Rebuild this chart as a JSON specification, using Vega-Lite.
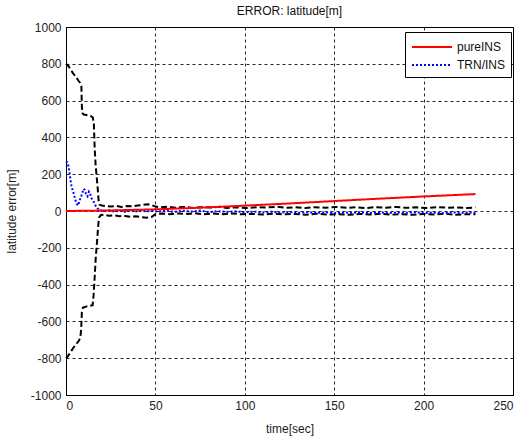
{
  "$schema": "https://vega.github.io/schema/vega-lite/v6.json",
  "width": 447,
  "height": 368,
  "autosize": {"type": "none"},
  "padding": {"left": 66, "top": 27, "right": 16, "bottom": 43},
  "background": "white",
  "title": {"text": "ERROR: latitude[m]", "fontSize": 12, "fontWeight": "normal", "font": "Liberation Sans", "color": "#111", "offset": 3, "anchor": "middle"},
  "config": {
    "view": {"stroke": "#000", "strokeWidth": 1},
    "axis": {"labelFont": "Liberation Sans", "titleFont": "Liberation Sans", "labelFontSize": 12, "titleFontSize": 12, "titleFontWeight": "normal", "labelColor": "#222", "titleColor": "#222", "domainColor": "#000", "ticks": false, "grid": true, "gridColor": "#000", "gridDash": [3, 3], "gridOpacity": 0.85, "gridWidth": 1}
  },
  "datasets": {
    "d": [
      {"t": 0, "v": 800, "s": "U"}, {"t": 1, "v": 792, "s": "U"}, {"t": 2, "v": 778, "s": "U"}, {"t": 3, "v": 762, "s": "U"}, {"t": 4, "v": 748, "s": "U"}, {"t": 5, "v": 735, "s": "U"}, {"t": 6, "v": 722, "s": "U"}, {"t": 7, "v": 708, "s": "U"}, {"t": 8, "v": 695, "s": "U"}, {"t": 8.6, "v": 680, "s": "U"}, {"t": 8.9, "v": 560, "s": "U"}, {"t": 9.3, "v": 530, "s": "U"}, {"t": 10, "v": 524, "s": "U"}, {"t": 12, "v": 520, "s": "U"}, {"t": 14, "v": 515, "s": "U"}, {"t": 15, "v": 508, "s": "U"}, {"t": 15.6, "v": 470, "s": "U"}, {"t": 16, "v": 350, "s": "U"}, {"t": 16.5, "v": 260, "s": "U"}, {"t": 17, "v": 200, "s": "U"}, {"t": 17.6, "v": 140, "s": "U"}, {"t": 18.2, "v": 60, "s": "U"}, {"t": 18.7, "v": 35, "s": "U"}, {"t": 20, "v": 30, "s": "U"}, {"t": 22, "v": 27, "s": "U"}, {"t": 25, "v": 24, "s": "U"}, {"t": 28, "v": 28, "s": "U"}, {"t": 31, "v": 22, "s": "U"}, {"t": 34, "v": 27, "s": "U"}, {"t": 37, "v": 25, "s": "U"}, {"t": 40, "v": 30, "s": "U"}, {"t": 43, "v": 33, "s": "U"}, {"t": 46, "v": 36, "s": "U"}, {"t": 48, "v": 32, "s": "U"}, {"t": 50, "v": 24, "s": "U"}, {"t": 53, "v": 20, "s": "U"}, {"t": 57, "v": 23, "s": "U"}, {"t": 61, "v": 18, "s": "U"}, {"t": 66, "v": 22, "s": "U"}, {"t": 71, "v": 17, "s": "U"}, {"t": 75, "v": 21, "s": "U"}, {"t": 81, "v": 19, "s": "U"}, {"t": 86, "v": 23, "s": "U"}, {"t": 90, "v": 17, "s": "U"}, {"t": 96, "v": 20, "s": "U"}, {"t": 101, "v": 16, "s": "U"}, {"t": 107, "v": 21, "s": "U"}, {"t": 112, "v": 19, "s": "U"}, {"t": 118, "v": 23, "s": "U"}, {"t": 123, "v": 18, "s": "U"}, {"t": 128, "v": 20, "s": "U"}, {"t": 134, "v": 16, "s": "U"}, {"t": 139, "v": 21, "s": "U"}, {"t": 145, "v": 18, "s": "U"}, {"t": 151, "v": 22, "s": "U"}, {"t": 157, "v": 17, "s": "U"}, {"t": 162, "v": 20, "s": "U"}, {"t": 168, "v": 16, "s": "U"}, {"t": 173, "v": 21, "s": "U"}, {"t": 179, "v": 18, "s": "U"}, {"t": 185, "v": 22, "s": "U"}, {"t": 190, "v": 17, "s": "U"}, {"t": 196, "v": 20, "s": "U"}, {"t": 202, "v": 16, "s": "U"}, {"t": 207, "v": 21, "s": "U"}, {"t": 213, "v": 18, "s": "U"}, {"t": 218, "v": 20, "s": "U"}, {"t": 224, "v": 16, "s": "U"}, {"t": 229, "v": 19, "s": "U"},
      {"t": 0, "v": -800, "s": "L"}, {"t": 1, "v": -790, "s": "L"}, {"t": 2, "v": -775, "s": "L"}, {"t": 3, "v": -760, "s": "L"}, {"t": 4, "v": -745, "s": "L"}, {"t": 5, "v": -732, "s": "L"}, {"t": 6, "v": -720, "s": "L"}, {"t": 7, "v": -708, "s": "L"}, {"t": 8, "v": -690, "s": "L"}, {"t": 8.5, "v": -640, "s": "L"}, {"t": 8.9, "v": -540, "s": "L"}, {"t": 9.5, "v": -525, "s": "L"}, {"t": 11, "v": -520, "s": "L"}, {"t": 13, "v": -516, "s": "L"}, {"t": 14.9, "v": -512, "s": "L"}, {"t": 15.4, "v": -460, "s": "L"}, {"t": 15.8, "v": -400, "s": "L"}, {"t": 16.2, "v": -330, "s": "L"}, {"t": 16.6, "v": -260, "s": "L"}, {"t": 17, "v": -210, "s": "L"}, {"t": 17.5, "v": -150, "s": "L"}, {"t": 18, "v": -80, "s": "L"}, {"t": 18.5, "v": -35, "s": "L"}, {"t": 19.5, "v": -22, "s": "L"}, {"t": 21, "v": -20, "s": "L"}, {"t": 24, "v": -26, "s": "L"}, {"t": 27, "v": -24, "s": "L"}, {"t": 30, "v": -28, "s": "L"}, {"t": 33, "v": -27, "s": "L"}, {"t": 36, "v": -31, "s": "L"}, {"t": 39, "v": -29, "s": "L"}, {"t": 42, "v": -33, "s": "L"}, {"t": 45, "v": -36, "s": "L"}, {"t": 48, "v": -32, "s": "L"}, {"t": 50, "v": -18, "s": "L"}, {"t": 54, "v": -14, "s": "L"}, {"t": 58, "v": -17, "s": "L"}, {"t": 63, "v": -13, "s": "L"}, {"t": 68, "v": -16, "s": "L"}, {"t": 72, "v": -12, "s": "L"}, {"t": 77, "v": -18, "s": "L"}, {"t": 82, "v": -14, "s": "L"}, {"t": 88, "v": -17, "s": "L"}, {"t": 93, "v": -13, "s": "L"}, {"t": 98, "v": -18, "s": "L"}, {"t": 104, "v": -15, "s": "L"}, {"t": 110, "v": -19, "s": "L"}, {"t": 116, "v": -14, "s": "L"}, {"t": 122, "v": -18, "s": "L"}, {"t": 128, "v": -16, "s": "L"}, {"t": 134, "v": -20, "s": "L"}, {"t": 140, "v": -15, "s": "L"}, {"t": 146, "v": -19, "s": "L"}, {"t": 152, "v": -17, "s": "L"}, {"t": 158, "v": -21, "s": "L"}, {"t": 164, "v": -16, "s": "L"}, {"t": 170, "v": -19, "s": "L"}, {"t": 176, "v": -15, "s": "L"}, {"t": 182, "v": -20, "s": "L"}, {"t": 188, "v": -17, "s": "L"}, {"t": 194, "v": -21, "s": "L"}, {"t": 200, "v": -16, "s": "L"}, {"t": 206, "v": -19, "s": "L"}, {"t": 212, "v": -15, "s": "L"}, {"t": 218, "v": -20, "s": "L"}, {"t": 224, "v": -17, "s": "L"}, {"t": 229, "v": -18, "s": "L"},
      {"t": 0, "v": 270, "s": "TRN/INS"}, {"t": 0.7, "v": 265, "s": "TRN/INS"}, {"t": 1.5, "v": 240, "s": "TRN/INS"}, {"t": 2.2, "v": 190, "s": "TRN/INS"}, {"t": 3, "v": 140, "s": "TRN/INS"}, {"t": 3.8, "v": 110, "s": "TRN/INS"}, {"t": 4.5, "v": 90, "s": "TRN/INS"}, {"t": 5.2, "v": 60, "s": "TRN/INS"}, {"t": 6, "v": 40, "s": "TRN/INS"}, {"t": 6.8, "v": 30, "s": "TRN/INS"}, {"t": 7.5, "v": 55, "s": "TRN/INS"}, {"t": 8.2, "v": 70, "s": "TRN/INS"}, {"t": 9, "v": 95, "s": "TRN/INS"}, {"t": 9.8, "v": 120, "s": "TRN/INS"}, {"t": 10.5, "v": 115, "s": "TRN/INS"}, {"t": 11.2, "v": 90, "s": "TRN/INS"}, {"t": 12, "v": 80, "s": "TRN/INS"}, {"t": 12.8, "v": 105, "s": "TRN/INS"}, {"t": 13.5, "v": 95, "s": "TRN/INS"}, {"t": 14.2, "v": 70, "s": "TRN/INS"}, {"t": 15, "v": 60, "s": "TRN/INS"}, {"t": 15.8, "v": 45, "s": "TRN/INS"}, {"t": 16.5, "v": 30, "s": "TRN/INS"}, {"t": 17.5, "v": 15, "s": "TRN/INS"}, {"t": 19, "v": 5, "s": "TRN/INS"}, {"t": 21, "v": -2, "s": "TRN/INS"}, {"t": 24, "v": 4, "s": "TRN/INS"}, {"t": 27, "v": -3, "s": "TRN/INS"}, {"t": 30, "v": 2, "s": "TRN/INS"}, {"t": 33, "v": -4, "s": "TRN/INS"}, {"t": 36, "v": 3, "s": "TRN/INS"}, {"t": 39, "v": -2, "s": "TRN/INS"}, {"t": 42, "v": 5, "s": "TRN/INS"}, {"t": 45, "v": -3, "s": "TRN/INS"}, {"t": 48, "v": 2, "s": "TRN/INS"}, {"t": 52, "v": -4, "s": "TRN/INS"}, {"t": 56, "v": 3, "s": "TRN/INS"}, {"t": 60, "v": -5, "s": "TRN/INS"}, {"t": 65, "v": 1, "s": "TRN/INS"}, {"t": 70, "v": -3, "s": "TRN/INS"}, {"t": 75, "v": 2, "s": "TRN/INS"}, {"t": 80, "v": -6, "s": "TRN/INS"}, {"t": 85, "v": -1, "s": "TRN/INS"}, {"t": 90, "v": -5, "s": "TRN/INS"}, {"t": 95, "v": -2, "s": "TRN/INS"}, {"t": 100, "v": -7, "s": "TRN/INS"}, {"t": 105, "v": -3, "s": "TRN/INS"}, {"t": 110, "v": -8, "s": "TRN/INS"}, {"t": 115, "v": -4, "s": "TRN/INS"}, {"t": 120, "v": -9, "s": "TRN/INS"}, {"t": 125, "v": -5, "s": "TRN/INS"}, {"t": 130, "v": -10, "s": "TRN/INS"}, {"t": 135, "v": -6, "s": "TRN/INS"}, {"t": 140, "v": -11, "s": "TRN/INS"}, {"t": 145, "v": -7, "s": "TRN/INS"}, {"t": 150, "v": -12, "s": "TRN/INS"}, {"t": 155, "v": -8, "s": "TRN/INS"}, {"t": 160, "v": -10, "s": "TRN/INS"}, {"t": 165, "v": -6, "s": "TRN/INS"}, {"t": 170, "v": -11, "s": "TRN/INS"}, {"t": 175, "v": -7, "s": "TRN/INS"}, {"t": 180, "v": -12, "s": "TRN/INS"}, {"t": 185, "v": -8, "s": "TRN/INS"}, {"t": 190, "v": -10, "s": "TRN/INS"}, {"t": 195, "v": -6, "s": "TRN/INS"}, {"t": 200, "v": -11, "s": "TRN/INS"}, {"t": 205, "v": -8, "s": "TRN/INS"}, {"t": 210, "v": -12, "s": "TRN/INS"}, {"t": 215, "v": -7, "s": "TRN/INS"}, {"t": 220, "v": -10, "s": "TRN/INS"}, {"t": 225, "v": -8, "s": "TRN/INS"}, {"t": 229, "v": -9, "s": "TRN/INS"},
      {"t": 0, "v": 0, "s": "pureINS"}, {"t": 25, "v": 3, "s": "pureINS"}, {"t": 50, "v": 9, "s": "pureINS"}, {"t": 75, "v": 18, "s": "pureINS"}, {"t": 100, "v": 29, "s": "pureINS"}, {"t": 125, "v": 41, "s": "pureINS"}, {"t": 150, "v": 54, "s": "pureINS"}, {"t": 175, "v": 67, "s": "pureINS"}, {"t": 200, "v": 79, "s": "pureINS"}, {"t": 229, "v": 92, "s": "pureINS"}
    ]
  },
  "data": {"name": "d"},
  "encoding": {
    "x": {"field": "t", "type": "quantitative", "scale": {"domain": [0, 250], "nice": false}, "axis": {"title": "time[sec]", "values": [0, 50, 100, 150, 200, 250], "labelExpr": "'' + datum.value", "labelPadding": 5, "titlePadding": 12}},
    "y": {"field": "v", "type": "quantitative", "scale": {"domain": [-1000, 1000], "nice": false}, "axis": {"title": "latitude error[m]", "values": [-1000, -800, -600, -400, -200, 0, 200, 400, 600, 800, 1000], "labelExpr": "'' + datum.value", "labelPadding": 5, "titlePadding": 12}}
  },
  "layer": [
    {
      "transform": [{"filter": "datum.s === 'U' || datum.s === 'L'"}],
      "mark": {"type": "line", "color": "#000", "strokeWidth": 2, "strokeDash": [6, 3]},
      "encoding": {"detail": {"field": "s", "type": "nominal"}}
    },
    {
      "transform": [{"filter": "datum.s === 'pureINS' || datum.s === 'TRN/INS'"}],
      "mark": {"type": "line"},
      "encoding": {
        "color": {"field": "s", "type": "nominal", "scale": {"domain": ["pureINS", "TRN/INS"], "range": ["#ff0000", "#0000ff"]},
          "legend": {"title": null, "orient": "none", "legendX": 339, "legendY": 5, "symbolType": "M-1,0H4", "symbolSize": 256, "symbolStrokeWidth": 2, "symbolFillColor": "transparent", "labelFont": "Liberation Sans", "labelFontSize": 12, "labelColor": "#111", "strokeColor": "#000", "fillColor": "#fff", "padding": 6, "rowPadding": 3, "labelOffset": 28}},
        "strokeDash": {"field": "s", "type": "nominal", "scale": {"domain": ["pureINS", "TRN/INS"], "range": [[1, 0], [2, 2]]},
          "legend": {"title": null, "orient": "none", "legendX": 339, "legendY": 5, "symbolType": "M-1,0H4", "symbolSize": 256, "symbolStrokeWidth": 2, "symbolFillColor": "transparent", "labelFont": "Liberation Sans", "labelFontSize": 12, "labelColor": "#111", "strokeColor": "#000", "fillColor": "#fff", "padding": 6, "rowPadding": 3, "labelOffset": 28}},
        "strokeWidth": {"value": 2},
        "order": {"field": "t", "type": "quantitative"}
      }
    }
  ]
}
